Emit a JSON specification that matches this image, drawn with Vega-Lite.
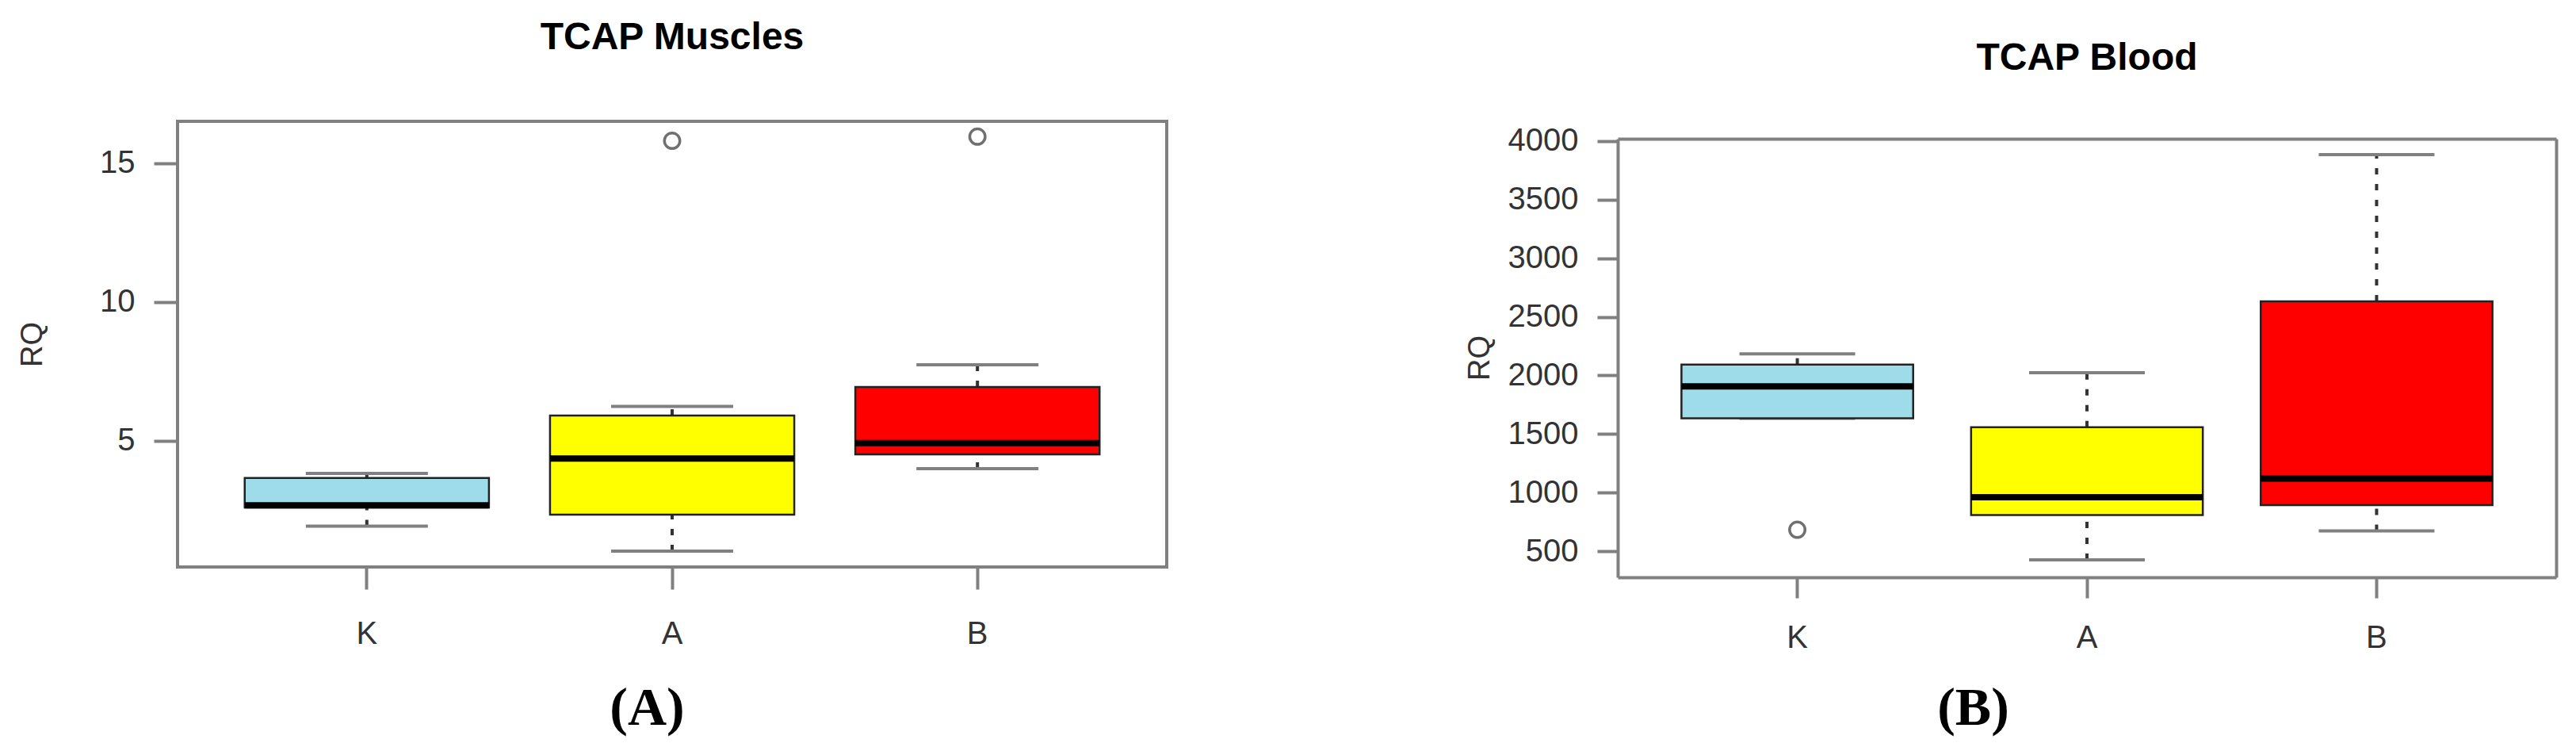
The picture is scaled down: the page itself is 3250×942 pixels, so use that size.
{
  "$schema": "https://vega.github.io/schema/vega-lite/v6.json",
  "background": "white",
  "padding": {"left": 20, "top": 22, "right": 10, "bottom": 5},
  "bounds": "flush",
  "spacing": 569,
  "config": {
    "font": "Liberation Sans",
    "view": {"stroke": null},
    "tick": {"opacity": 1},
    "axis": {
      "grid": false,
      "domainColor": "#808080",
      "domainWidth": 4,
      "tickColor": "#808080",
      "tickWidth": 4,
      "labelFont": "Liberation Sans",
      "labelFontSize": 40,
      "labelColor": "#333333",
      "titleFont": "Liberation Sans",
      "titleColor": "#333333",
      "titleFontWeight": "normal"
    }
  },
  "datasets": {
    "muscles": [
      {"group": "K", "lower": 1.93, "q1": 2.6, "median": 2.68, "q3": 3.66, "upper": 3.83},
      {"group": "A", "lower": 1.03, "q1": 2.34, "median": 4.36, "q3": 5.91, "upper": 6.24},
      {"group": "B", "lower": 4.0, "q1": 4.51, "median": 4.92, "q3": 6.94, "upper": 7.74}
    ],
    "muscles_out": [
      {"group": "A", "value": 15.81},
      {"group": "B", "value": 15.96}
    ],
    "blood": [
      {"group": "K", "lower": 1634, "q1": 1634, "median": 1906, "q3": 2093, "upper": 2184},
      {"group": "A", "lower": 426, "q1": 809, "median": 960, "q3": 1558, "upper": 2023},
      {"group": "B", "lower": 673, "q1": 893, "median": 1120, "q3": 2633, "upper": 3885}
    ],
    "blood_out": [
      {"group": "K", "value": 683}
    ]
  },
  "hconcat": [
    {
      "width": 1248,
      "height": 562,
      "view": {"stroke": "#808080", "strokeWidth": 4},
      "title": {"text": "TCAP Muscles", "frame": "group", "anchor": "middle", "font": "Liberation Sans", "fontSize": 48, "fontWeight": "bold", "color": "#000000", "baseline": "alphabetic", "offset": 43},
      "layer": [
        {
          "data": {"name": "muscles"},
          "mark": {"type": "rule", "color": "#333333", "strokeWidth": 4, "strokeDash": [8, 12]},
          "encoding": {
            "x": {"field": "group", "type": "nominal", "sort": ["K", "A", "B"],
              "scale": {"paddingInner": 0, "paddingOuter": 0.12},
              "axis": {"orient": "bottom", "domain": false, "tickSize": 28, "labelPadding": 36, "labelAngle": 0,
                "title": "(A)", "titleFont": "Liberation Serif", "titleFontSize": 68, "titleFontWeight": "bold", "titleColor": "#000000",
                "titleX": 592, "titleY": 178, "titleBaseline": "middle", "titleAlign": "center"}},
            "y": {"field": "q3", "type": "quantitative",
              "scale": {"domain": [0.457, 16.51], "nice": false, "zero": false},
              "axis": {"orient": "left", "domain": false, "values": [5, 10, 15], "tickSize": 30, "labelPadding": 24,
                "title": "RQ", "titleFontSize": 38, "titleAngle": -90, "titleX": -183, "titleY": 281, "titleBaseline": "middle", "titleAlign": "center"}},
            "y2": {"field": "upper"}
          }
        },
        {
          "data": {"name": "muscles"},
          "mark": {"type": "rule", "color": "#333333", "strokeWidth": 4, "strokeDash": [8, 12]},
          "encoding": {
            "x": {"field": "group", "type": "nominal", "sort": ["K", "A", "B"]},
            "y": {"field": "lower", "type": "quantitative"},
            "y2": {"field": "q1"}
          }
        },
        {
          "data": {"name": "muscles"},
          "mark": {"type": "tick", "color": "#808080", "thickness": 4, "size": 154, "opacity": 1},
          "encoding": {
            "x": {"field": "group", "type": "nominal", "sort": ["K", "A", "B"]},
            "y": {"field": "upper", "type": "quantitative"}
          }
        },
        {
          "data": {"name": "muscles"},
          "mark": {"type": "tick", "color": "#808080", "thickness": 4, "size": 154, "opacity": 1},
          "encoding": {
            "x": {"field": "group", "type": "nominal", "sort": ["K", "A", "B"]},
            "y": {"field": "lower", "type": "quantitative"}
          }
        },
        {
          "data": {"name": "muscles"},
          "mark": {"type": "bar", "width": {"band": 0.8}, "stroke": "#222222", "strokeWidth": 2.5, "opacity": 1},
          "encoding": {
            "x": {"field": "group", "type": "nominal", "sort": ["K", "A", "B"]},
            "y": {"field": "q1", "type": "quantitative"},
            "y2": {"field": "q3"},
            "fill": {"field": "group", "type": "nominal", "scale": {"domain": ["K", "A", "B"], "range": ["#9EDCEA", "#FFFF00", "#FF0000"]}, "legend": null}
          }
        },
        {
          "data": {"name": "muscles"},
          "mark": {"type": "tick", "color": "#000000", "thickness": 8, "size": 308, "opacity": 1},
          "encoding": {
            "x": {"field": "group", "type": "nominal", "sort": ["K", "A", "B"]},
            "y": {"field": "median", "type": "quantitative"}
          }
        },
        {
          "data": {"name": "muscles_out"},
          "mark": {"type": "point", "shape": "circle", "filled": false, "color": "#707070", "strokeWidth": 3.5, "size": 380, "opacity": 1},
          "encoding": {
            "x": {"field": "group", "type": "nominal", "sort": ["K", "A", "B"]},
            "y": {"field": "value", "type": "quantitative"}
          }
        }
      ]
    },
    {
      "width": 1184,
      "height": 575,
      "title": {"text": "TCAP Blood", "frame": "group", "anchor": "middle", "font": "Liberation Sans", "fontSize": 48, "fontWeight": "bold", "color": "#000000", "baseline": "alphabetic", "offset": 17},
      "resolve": {"axis": {"x": "independent", "y": "independent"}},
      "layer": [
        {
          "data": {"name": "blood"},
          "mark": {"type": "rule", "color": "#333333", "strokeWidth": 4, "strokeDash": [8, 12]},
          "encoding": {
            "x": {"field": "group", "type": "nominal", "sort": ["K", "A", "B"],
              "scale": {"paddingInner": 0, "paddingOuter": 0.12},
              "axis": {"orient": "bottom", "domain": true, "tickSize": 26, "labelPadding": 30, "labelAngle": 0,
                "title": "(B)", "titleFont": "Liberation Serif", "titleFontSize": 68, "titleFontWeight": "bold", "titleColor": "#000000",
                "titleX": 448, "titleY": 165, "titleBaseline": "middle", "titleAlign": "center"}},
            "y": {"field": "q3", "type": "quantitative",
              "scale": {"domain": [277, 4020], "nice": false, "zero": false, "range": [575, 22]},
              "axis": {"orient": "left", "domain": true, "values": [500, 1000, 1500, 2000, 2500, 3000, 3500, 4000], "format": "d", "tickSize": 26, "labelPadding": 24,
                "title": "RQ", "titleFontSize": 38, "titleAngle": -90, "titleX": -174, "titleY": 298, "titleBaseline": "middle", "titleAlign": "center"}},
            "y2": {"field": "upper"}
          }
        },
        {
          "data": {"name": "blood"},
          "mark": {"type": "rule", "color": "#333333", "strokeWidth": 4, "strokeDash": [8, 12]},
          "encoding": {
            "x": {"field": "group", "type": "nominal", "sort": ["K", "A", "B"],
              "axis": {"orient": "top", "domain": true, "ticks": false, "labels": false, "title": null, "offset": -22}},
            "y": {"field": "lower", "type": "quantitative",
              "axis": {"orient": "right", "domain": true, "ticks": false, "labels": false, "title": null}},
            "y2": {"field": "q1"}
          }
        },
        {
          "data": {"name": "blood"},
          "mark": {"type": "tick", "color": "#808080", "thickness": 4, "size": 146, "opacity": 1},
          "encoding": {
            "x": {"field": "group", "type": "nominal", "sort": ["K", "A", "B"], "axis": null},
            "y": {"field": "upper", "type": "quantitative", "axis": null}
          }
        },
        {
          "data": {"name": "blood"},
          "mark": {"type": "tick", "color": "#808080", "thickness": 4, "size": 146, "opacity": 1},
          "encoding": {
            "x": {"field": "group", "type": "nominal", "sort": ["K", "A", "B"], "axis": null},
            "y": {"field": "lower", "type": "quantitative", "axis": null}
          }
        },
        {
          "data": {"name": "blood"},
          "mark": {"type": "bar", "width": {"band": 0.8}, "stroke": "#222222", "strokeWidth": 2.5, "opacity": 1},
          "encoding": {
            "x": {"field": "group", "type": "nominal", "sort": ["K", "A", "B"], "axis": null},
            "y": {"field": "q1", "type": "quantitative", "axis": null},
            "y2": {"field": "q3"},
            "fill": {"field": "group", "type": "nominal", "scale": {"domain": ["K", "A", "B"], "range": ["#9EDCEA", "#FFFF00", "#FF0000"]}, "legend": null}
          }
        },
        {
          "data": {"name": "blood"},
          "mark": {"type": "tick", "color": "#000000", "thickness": 8, "size": 292, "opacity": 1},
          "encoding": {
            "x": {"field": "group", "type": "nominal", "sort": ["K", "A", "B"], "axis": null},
            "y": {"field": "median", "type": "quantitative", "axis": null}
          }
        },
        {
          "data": {"name": "blood_out"},
          "mark": {"type": "point", "shape": "circle", "filled": false, "color": "#707070", "strokeWidth": 3.5, "size": 380, "opacity": 1},
          "encoding": {
            "x": {"field": "group", "type": "nominal", "sort": ["K", "A", "B"], "axis": null},
            "y": {"field": "value", "type": "quantitative", "axis": null}
          }
        }
      ]
    }
  ]
}
